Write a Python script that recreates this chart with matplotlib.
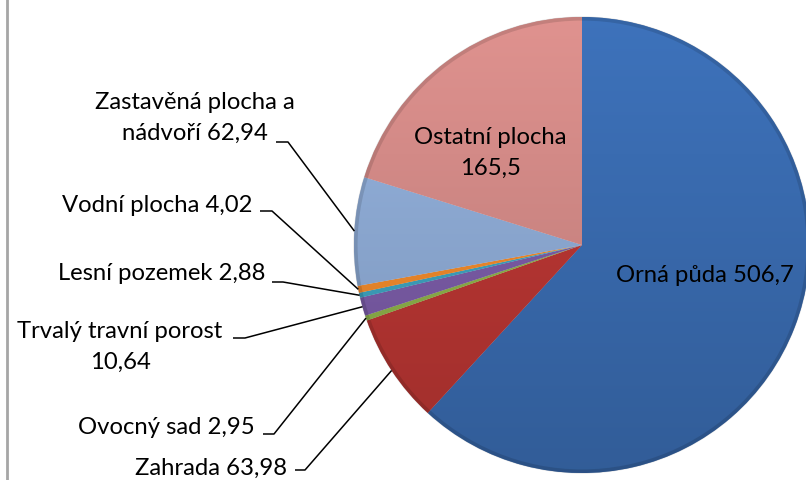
import matplotlib
matplotlib.use("Agg")
import matplotlib.pyplot as plt
import numpy as np
from matplotlib.colors import to_rgb

# ---- data ----
categories = ["Orná půda", "Zahrada", "Ovocný sad", "Trvalý travní porost",
              "Lesní pozemek", "Vodní plocha", "Zastavěná plocha a nádvoří",
              "Ostatní plocha"]
values = [506.7, 63.98, 2.95, 10.64, 2.88, 4.02, 62.94, 165.5]
value_labels = ["506,7", "63,98", "2,95", "10,64", "2,88", "4,02", "62,94", "165,5"]
label_texts = ["Orná půda 506,7", "Zahrada 63,98", "Ovocný sad 2,95",
               "Trvalý travní porost\n10,64", "Lesní pozemek 2,88",
               "Vodní plocha 4,02", "Zastavěná plocha a\nnádvoří 62,94",
               "Ostatní plocha\n165,5"]
colors = ["#3A6CB1", "#B93633", "#8DB04A", "#7B5CA7", "#3EA2BE",
          "#F08A2C", "#8EABD5", "#D38A87"]

W, H = 806, 480
fig = plt.figure(figsize=(W / 100, H / 100), dpi=100)
ax = fig.add_axes([0, 0, 1, 1])

plt.rcParams["font.family"] = ["Lato", "DejaVu Sans"]
FS = 17.2
LS = 1.6

cx, cy, R = 582, H - 245, 228

wedges, _ = ax.pie(values, colors=colors, startangle=90, counterclock=False,
                   radius=R, center=(cx, cy), frame=True,
                   wedgeprops=dict(edgecolor=(1, 1, 1, 0.35), linewidth=0.8))
ax.set_xlim(0, W)
ax.set_ylim(0, H)
ax.set_aspect("equal")
ax.axis("off")

# vertical gradient shading on each wedge
for w, c in zip(wedges, colors):
    r, g, b = to_rgb(c)
    n = 256
    t = np.linspace(0, 1, n)[:, None]
    light = np.array([min(1, r * 1.06), min(1, g * 1.06), min(1, b * 1.06)])
    dark = np.array([r * 0.86, g * 0.86, b * 0.86])
    grad = light[None, :] * (1 - t) + dark[None, :] * t
    img = np.concatenate([grad, np.ones((n, 1))], axis=1)[:, None, :]
    im = ax.imshow(img, extent=(cx - R, cx + R, cy - R, cy + R),
                   origin="upper", aspect="auto", zorder=w.get_zorder() + 0.1)
    im.set_clip_path(w)

# rim shading
ax.add_patch(plt.Circle((cx, cy), R - 1.5, fill=False, edgecolor=(0, 0, 0, 0.12),
                        linewidth=3, zorder=5))

# mid angles from data
total = sum(values)
cum = np.cumsum([0] + values)
mids = [90 - 360 * (cum[i] + values[i] / 2) / total for i in range(len(values))]

def edge_pt(i):
    a = np.deg2rad(mids[i])
    return cx + R * np.cos(a), cy + R * np.sin(a)

# inside labels
ax.text(705, H - 275, label_texts[0], ha="center", va="center", fontsize=FS, zorder=10)
ax.text(490, H - 153, label_texts[7], ha="center", va="center", fontsize=FS,
        linespacing=LS, multialignment="center", zorder=10)

# outside labels: (index, text x, text y, ha, leader start x0, x1, y)
outside = [
    (6, 195, 118, "center", 276, 288, 142),
    (5, 253, 205, "right", 260, 272, 211),
    (4, 265, 273, "right", 272, 283, 282),
    (3, 120, 347, "center", 233, 245, 338),
    (2, 255, 428, "right", 263, 274, 434),
    (1, 287, 468, "right", 295, 305, 470),
]
for i, tx, ty, ha, x0, x1, ly in outside:
    ax.text(tx, H - ty, label_texts[i], ha=ha, va="center", fontsize=FS,
            linespacing=LS, multialignment="center", zorder=10)
    ex, ey = edge_pt(i)
    ax.plot([x0, x1, ex], [H - ly, H - ly, ey], color="black", lw=1.1,
            solid_capstyle="butt", zorder=11)

# left border line
ax.plot([7, 7], [0, H], color="#A6A6A6", lw=2, zorder=12)

fig.savefig("out.png", dpi=100)
